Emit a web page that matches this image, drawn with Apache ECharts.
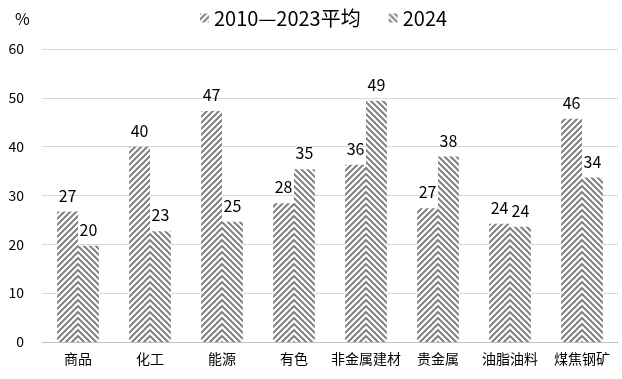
<!DOCTYPE html>
<html>
<head>
<meta charset="utf-8">
<script src="https://cdn.jsdelivr.net/npm/echarts@6/dist/echarts.min.js"></script>
<style>html,body{margin:0;padding:0;background:#fff}#c{width:622px;height:379px}</style>
</head>
<body>
<div id="c"></div>
<script>
var categories = ['商品','化工','能源','有色','非金属建材','贵金属','油脂油料','煤焦钢矿'];
var avgValues = [26.7, 40.0, 47.3, 28.4, 36.3, 27.4, 24.2, 45.7];
var y2024Values = [19.7, 22.7, 24.6, 35.4, 49.4, 38.0, 23.6, 33.7];
var seriesNames = ['2010—2023平均', '2024'];
var yTicks = [0, 10, 20, 30, 40, 50, 60];

function makePattern(dir) {
  var c = document.createElement('canvas');
  c.width = 6; c.height = 6;
  var ctx = c.getContext('2d');
  ctx.fillStyle = '#ffffff';
  ctx.fillRect(0, 0, 6, 6);
  ctx.strokeStyle = '#808080';
  ctx.lineWidth = 2;
  ctx.beginPath();
  for (var k = -6; k <= 6; k += 6) {
    if (dir === '/') { ctx.moveTo(k - 1, 7); ctx.lineTo(k + 7, -1); }
    else { ctx.moveTo(k - 1, -1); ctx.lineTo(k + 7, 7); }
  }
  ctx.stroke();
  return c;
}
var pat1 = { image: makePattern('/'), repeat: 'repeat' };
var pat2 = { image: makePattern('\\'), repeat: 'repeat' };

var font = '"Noto Sans CJK SC", "Noto Sans", sans-serif';
var chart = echarts.init(document.getElementById('c'), null, { renderer: 'canvas' });
var labelCfg = {
  show: true, position: 'top', distance: 8, color: '#000', fontSize: 16, fontFamily: font,
  formatter: function (p) { return Math.round(p.value); }
};
chart.setOption({
  animation: false,
  textStyle: { fontFamily: font },
  title: { text: '%', left: 10, top: 6, textStyle: { fontSize: 16, fontWeight: 'normal', color: '#000', fontFamily: font } },
  legend: {
    top: 3, left: 195, itemWidth: 9, itemHeight: 9, itemGap: 28, icon: 'rect',
    textStyle: { fontSize: 20, color: '#000', fontFamily: font },
    data: seriesNames
  },
  grid: { left: 42, right: 4, top: 49, bottom: 37, containLabel: false },
  xAxis: {
    type: 'category', data: categories,
    axisLine: { lineStyle: { color: '#bfbfbf', width: 1 } },
    axisTick: { show: false },
    axisLabel: { color: '#000', fontSize: 14, fontFamily: font, margin: 10, interval: 0 }
  },
  yAxis: {
    type: 'value', min: yTicks[0], max: yTicks[yTicks.length - 1], interval: 10,
    axisLine: { show: false }, axisTick: { show: false },
    splitLine: { lineStyle: { color: '#d9d9d9', width: 1 } },
    axisLabel: { color: '#000', fontSize: 14, fontFamily: font, margin: 18 }
  },
  series: [
    { name: seriesNames[0], type: 'bar', data: avgValues, barGap: '0%', barCategoryGap: '42%',
      itemStyle: { color: pat1 }, label: labelCfg },
    { name: seriesNames[1], type: 'bar', data: y2024Values, barGap: '0%', barCategoryGap: '42%',
      itemStyle: { color: pat2 }, label: labelCfg }
  ]
});
</script>
</body>
</html>
